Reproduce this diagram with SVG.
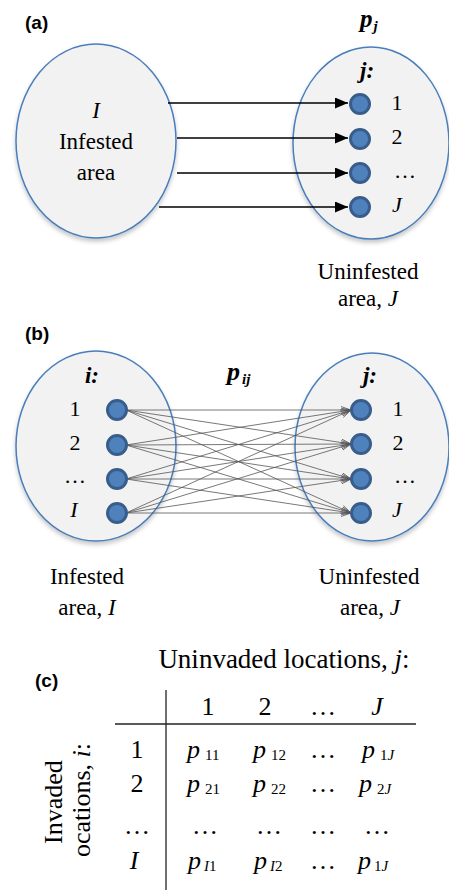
<svg xmlns="http://www.w3.org/2000/svg" width="449" height="890" viewBox="0 0 449 890">
<defs>
<filter id="sh" x="-10%" y="-10%" width="120%" height="125%"><feDropShadow dx="0" dy="3" stdDeviation="2" flood-color="#000" flood-opacity="0.22"/></filter>
<marker id="ah" markerWidth="14" markerHeight="12" refX="13" refY="5.5" orient="auto" markerUnits="userSpaceOnUse"><path d="M0,0 L13,5.5 L0,11 Z" fill="#000"/></marker>
<marker id="ah2" markerWidth="12" markerHeight="9" refX="10" refY="4" orient="auto" markerUnits="userSpaceOnUse"><path d="M0,0.5 L10,4 L0,7.5" fill="none" stroke="#555" stroke-width="0.8"/></marker>
</defs>
<style>
.area{fill:#f2f2f2;stroke:#4a7ebb;stroke-width:1.5;filter:url(#sh)}
.dot{fill:#4f81bd;stroke:#385d8a;stroke-width:3}
.t{font-family:"Liberation Serif","Times New Roman",serif;font-size:23px;fill:#000}
.n{font-family:"Liberation Serif","Times New Roman",serif;font-size:22px;fill:#000}
.tc{font-family:"Liberation Serif","Times New Roman",serif;font-size:26px;fill:#000}
.sub{font-size:15px}
.lbl{font-family:"Liberation Sans",Arial,sans-serif;font-weight:bold;font-size:19px;fill:#000}
.bi{font-style:italic;font-weight:bold}
.i{font-style:italic}
.a1{stroke:#000;stroke-width:1.5;fill:none;marker-end:url(#ah)}
.a2{stroke:#555;stroke-width:0.8;fill:none;marker-end:url(#ah2)}
.rule{stroke:#222;stroke-width:1.3}
.m{text-anchor:middle}
</style>

<!-- Panel (a) -->
<text class="lbl" x="25" y="29">(a)</text>
<g id="a-infested">
<ellipse class="area" cx="96" cy="141" rx="80" ry="97"/>
<text class="t m i" x="96" y="118">I</text>
<text class="t m" x="96" y="149">Infested</text>
<text class="t m" x="96" y="180">area</text>
</g>
<g id="a-uninfested">
<ellipse class="area" cx="371" cy="143" rx="78" ry="96"/>
<text class="t bi" x="360" y="78">j:</text>
<circle class="dot" cx="360" cy="104" r="9.5"/>
<circle class="dot" cx="360" cy="139" r="9.5"/>
<circle class="dot" cx="360" cy="173" r="9.5"/>
<circle class="dot" cx="360" cy="207" r="9.5"/>
<text class="n m" x="397" y="110">1</text>
<text class="n m" x="397" y="144">2</text>
<text class="n m" x="405" y="178">…</text>
<text class="n m i" x="397" y="212">J</text>
</g>
<text class="tc bi" x="360" y="27" style="font-size:25px">p<tspan class="sub" dx="1" dy="4">j</tspan></text>
<text class="t m" x="368" y="279">Uninfested</text>
<text class="t m" x="368" y="306">area, <tspan class="i">J</tspan></text>
<g id="a-connectors">
<line class="a1" x1="168" y1="103" x2="348" y2="103"/>
<line class="a1" x1="177" y1="138" x2="348" y2="138"/>
<line class="a1" x1="177" y1="173" x2="348" y2="173"/>
<line class="a1" x1="159" y1="207" x2="348" y2="207"/>
</g>

<!-- Panel (b) -->
<text class="lbl" x="25" y="340">(b)</text>
<g id="b-infested">
<ellipse class="area" cx="96" cy="446" rx="80" ry="95"/>
<text class="t bi m" x="92" y="383">i:</text>
<text class="n m" x="75" y="416">1</text>
<text class="n m" x="75" y="450">2</text>
<text class="n m" x="75" y="483">…</text>
<text class="n m i" x="74" y="517">I</text>
</g>
<g id="b-uninfested">
<ellipse class="area" cx="372" cy="447" rx="77" ry="94"/>
<text class="t bi m" x="370" y="383">j:</text>
<text class="n m" x="398" y="416">1</text>
<text class="n m" x="398" y="450">2</text>
<text class="n m" x="405" y="483">…</text>
<text class="n m i" x="397" y="517">J</text>
</g>
<text class="tc bi" x="227" y="380">p<tspan class="sub" dx="2" dy="4">ij</tspan></text>
<g id="b-connectors">
<line class="a2" x1="126" y1="410" x2="351" y2="410"/>
<line class="a2" x1="126" y1="410" x2="351" y2="444"/>
<line class="a2" x1="126" y1="410" x2="351" y2="479"/>
<line class="a2" x1="126" y1="410" x2="351" y2="513"/>
<line class="a2" x1="126" y1="445" x2="351" y2="410"/>
<line class="a2" x1="126" y1="445" x2="351" y2="444"/>
<line class="a2" x1="126" y1="445" x2="351" y2="479"/>
<line class="a2" x1="126" y1="445" x2="351" y2="513"/>
<line class="a2" x1="126" y1="479" x2="351" y2="410"/>
<line class="a2" x1="126" y1="479" x2="351" y2="444"/>
<line class="a2" x1="126" y1="479" x2="351" y2="479"/>
<line class="a2" x1="126" y1="479" x2="351" y2="513"/>
<line class="a2" x1="126" y1="513" x2="351" y2="410"/>
<line class="a2" x1="126" y1="513" x2="351" y2="444"/>
<line class="a2" x1="126" y1="513" x2="351" y2="479"/>
<line class="a2" x1="126" y1="513" x2="351" y2="513"/>
</g>
<g id="b-dots">
<circle class="dot" cx="117" cy="410" r="9.5"/>
<circle class="dot" cx="117" cy="445" r="9.5"/>
<circle class="dot" cx="117" cy="479" r="9.5"/>
<circle class="dot" cx="117" cy="513" r="9.5"/>
<circle class="dot" cx="361" cy="410" r="9.5"/>
<circle class="dot" cx="361" cy="444" r="9.5"/>
<circle class="dot" cx="361" cy="479" r="9.5"/>
<circle class="dot" cx="361" cy="513" r="9.5"/>
</g>
<text class="t m" x="87" y="584">Infested</text>
<text class="t m" x="87" y="615">area, <tspan class="i">I</tspan></text>
<text class="t m" x="369" y="584">Uninfested</text>
<text class="t m" x="370" y="615">area, <tspan class="i">J</tspan></text>

<!-- Panel (c) -->
<text class="lbl" x="35" y="687">(c)</text>
<g id="c-table">
<text class="tc m" x="284" y="668" style="font-size:27px">Uninvaded locations, <tspan class="i">j</tspan>:</text>
<text class="tc m" transform="translate(62,802) rotate(-90)">Invaded</text>
<text class="tc m" transform="translate(90,800) rotate(-90)">ocations, <tspan class="i">i</tspan>:</text>
<line class="rule" x1="166" y1="690" x2="166" y2="890"/>
<line class="rule" x1="115" y1="724" x2="416" y2="724"/>
<text class="tc m" x="208" y="715">1</text>
<text class="tc m" x="265" y="715">2</text>
<text class="tc m" x="323" y="715">…</text>
<text class="tc m i" x="377" y="715">J</text>
<text class="tc m" x="137" y="758">1</text>
<text class="tc m" x="137" y="792">2</text>
<text class="tc m" x="137" y="834">…</text>
<text class="tc m i" x="134" y="869">I</text>
<text class="tc" x="187" y="758"><tspan class="i">p</tspan><tspan class="sub" dx="5" dy="2">11</tspan></text>
<text class="tc" x="253" y="758"><tspan class="i">p</tspan><tspan class="sub" dx="5" dy="2">12</tspan></text>
<text class="tc m" x="323" y="758">…</text>
<text class="tc" x="362" y="758"><tspan class="i">p</tspan><tspan class="sub" dx="5" dy="2">1<tspan class="i">J</tspan></tspan></text>
<text class="tc" x="187" y="792"><tspan class="i">p</tspan><tspan class="sub" dx="5" dy="2">21</tspan></text>
<text class="tc" x="253" y="792"><tspan class="i">p</tspan><tspan class="sub" dx="5" dy="2">22</tspan></text>
<text class="tc m" x="323" y="792">…</text>
<text class="tc" x="359" y="792"><tspan class="i">p</tspan><tspan class="sub" dx="5" dy="2">2<tspan class="i">J</tspan></tspan></text>
<text class="tc m" x="205" y="834">…</text>
<text class="tc m" x="269" y="834">…</text>
<text class="tc m" x="323" y="834">…</text>
<text class="tc m" x="377" y="834">…</text>
<text class="tc" x="188" y="869"><tspan class="i">p</tspan><tspan class="sub" dx="3" dy="2"><tspan class="i">I</tspan>1</tspan></text>
<text class="tc" x="254" y="869"><tspan class="i">p</tspan><tspan class="sub" dx="3" dy="2"><tspan class="i">I</tspan>2</tspan></text>
<text class="tc m" x="323" y="869">…</text>
<text class="tc" x="358" y="869"><tspan class="i">p</tspan><tspan class="sub" dx="3" dy="2">1<tspan class="i">J</tspan></tspan></text>
</g>
</svg>
